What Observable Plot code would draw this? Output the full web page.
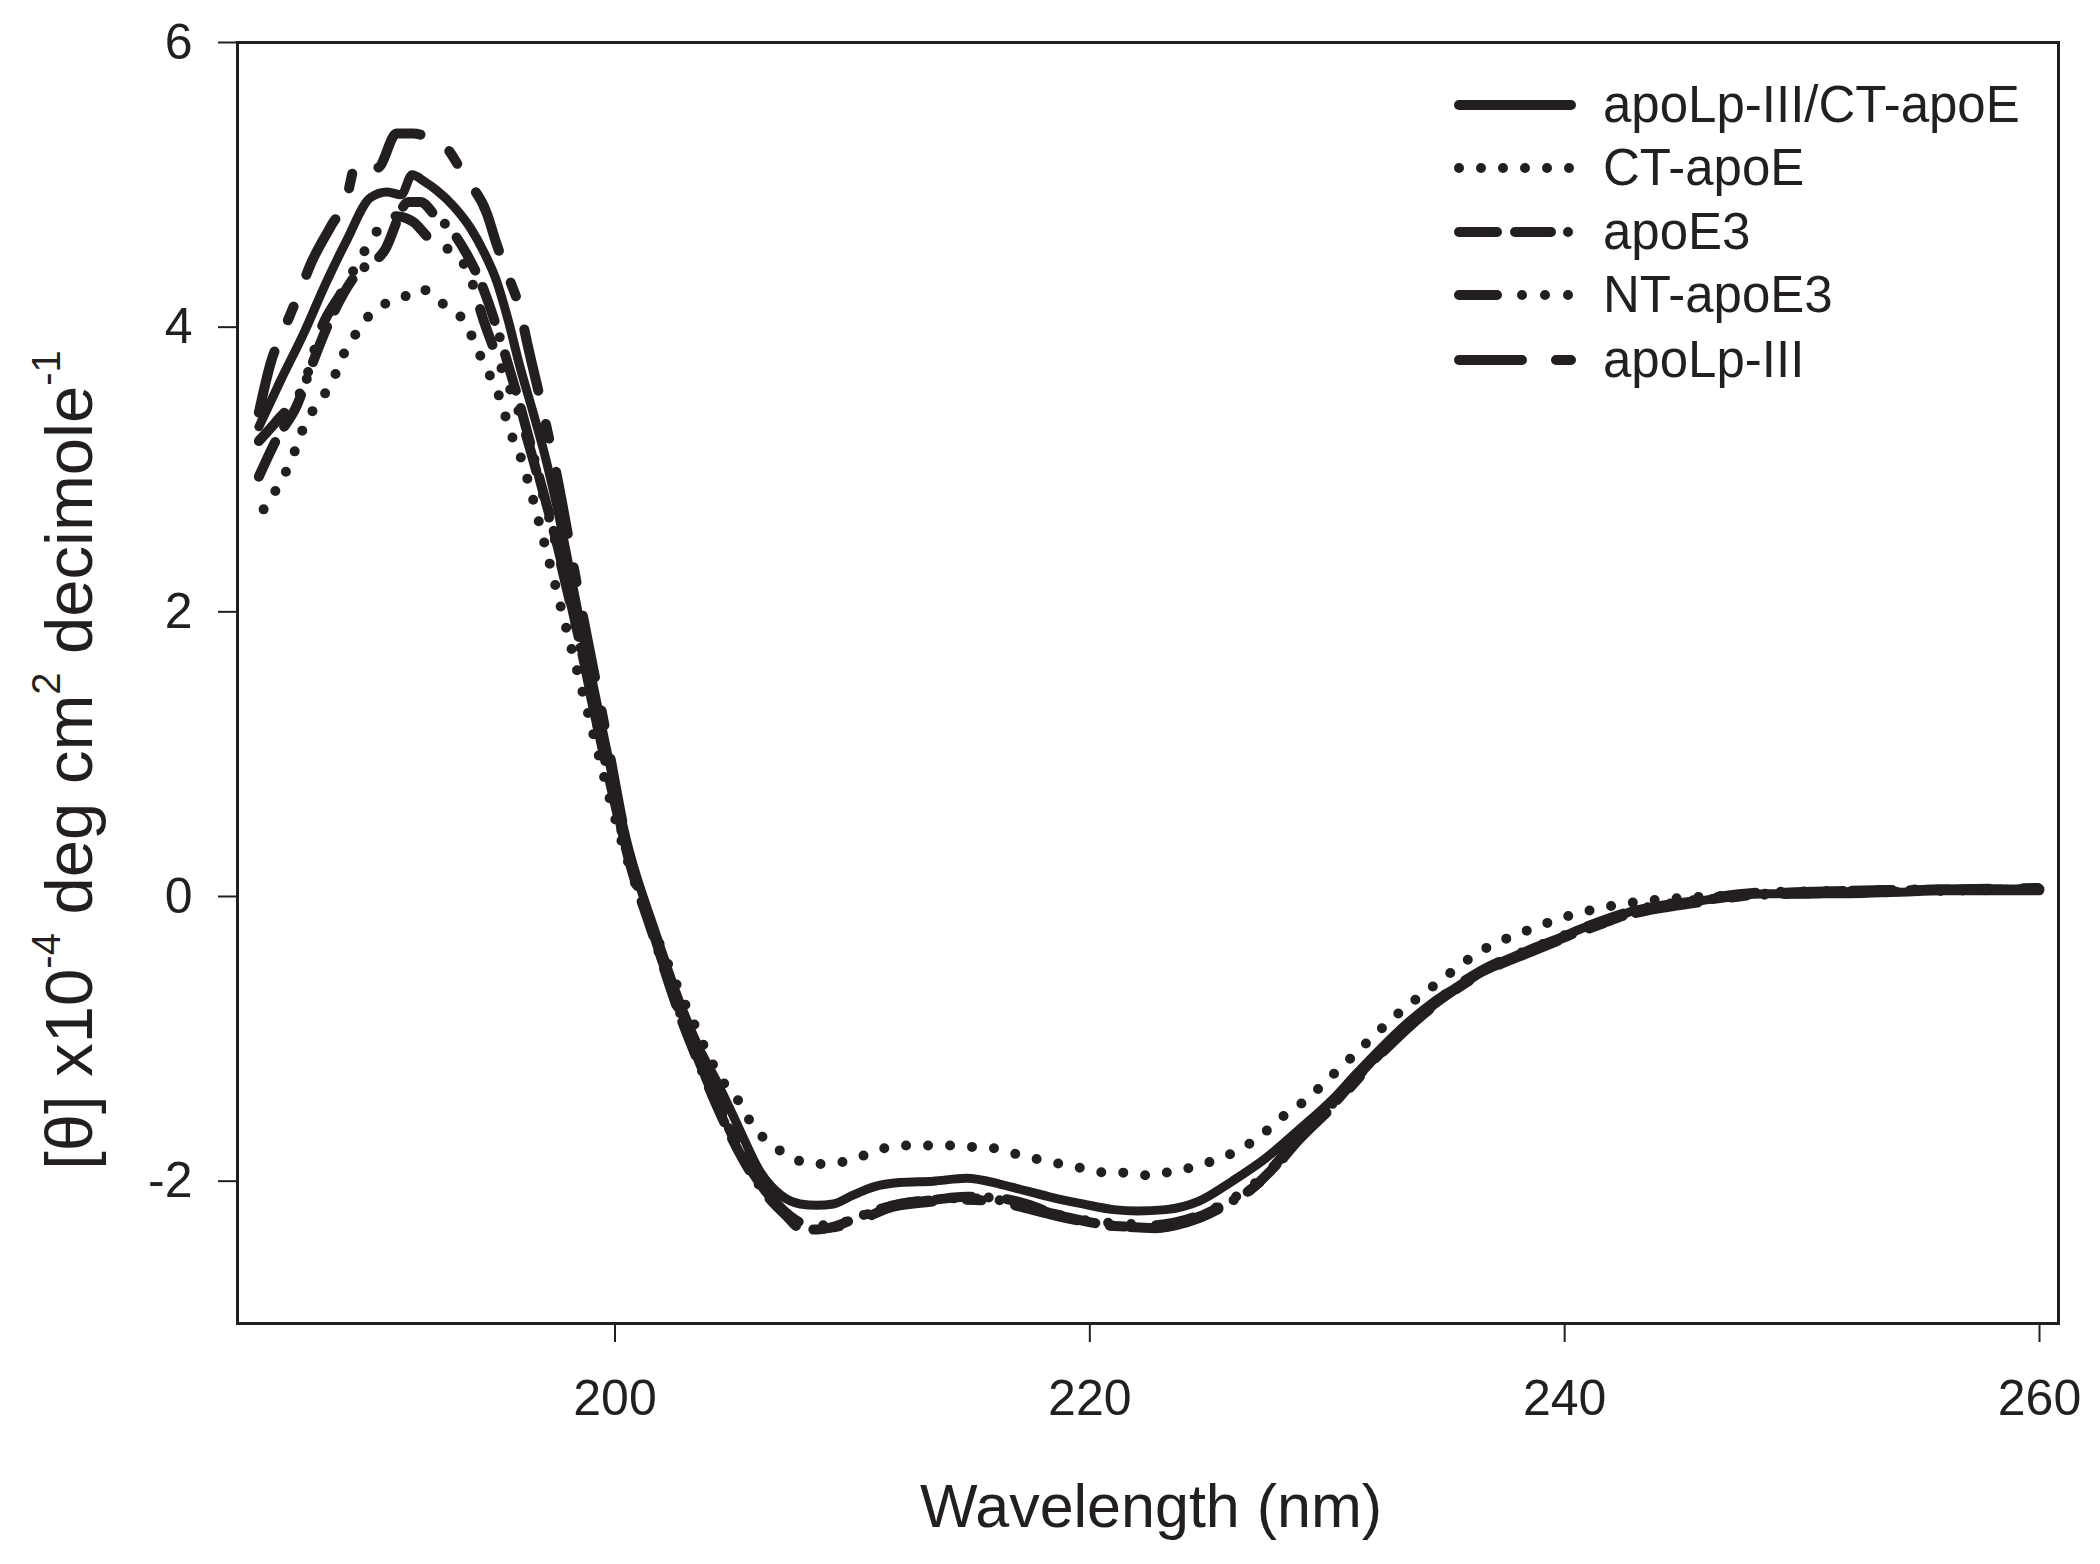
<!DOCTYPE html>
<html><head><meta charset="utf-8">
<script src="https://cdn.jsdelivr.net/npm/d3@7"></script>
<script src="https://cdn.jsdelivr.net/npm/@observablehq/plot@0.6"></script>
<style>html,body{margin:0;padding:0;background:#fff;} svg text{white-space:pre;}</style>
</head><body><div id="chart"></div>
<script>
// ---- data (wavelength nm, [theta] x10^-4) ----
const xTicks = [200, 220, 240, 260];
const yTicks = [-2, 0, 2, 4, 6];
const legendNames = ["apoLp-III/CT-apoE", "CT-apoE", "apoE3", "NT-apoE3", "apoLp-III"];

const wl_mix = [185.0,185.9,186.9,187.8,188.7,189.7,190.4,191.0,191.45,192.0,192.5,193.2,193.9,194.5,195.0,195.5,196.0,196.5,197.0,197.5,198.5,199.5,200.6,201.7,202.7,203.5,204.35,205.2,206.1,207.0,207.8,208.5,209.2,210.0,210.9,212.0,213.4,214.8,216.2,216.9,218.3,219.7,221.0,222.0,223.2,224.6,226.0,227.4,228.8,230.2,231.2,232.3,233.3,234.4,235.5,236.5,237.6,238.7,239.8,240.8,241.9,242.9,244.3,245.7,247.0,248.5,250.0,252.0,254.0,256.0,258.0,260.0];
const th_mix = [3.30,3.62,3.96,4.30,4.61,4.91,4.95,4.93,5.07,5.02,4.96,4.85,4.70,4.52,4.33,4.05,3.72,3.43,3.13,2.78,1.95,1.15,0.32,-0.25,-0.73,-1.05,-1.32,-1.62,-1.93,-2.10,-2.16,-2.17,-2.16,-2.10,-2.04,-2.01,-2.00,-1.98,-2.02,-2.05,-2.11,-2.16,-2.20,-2.21,-2.20,-2.14,-2.00,-1.84,-1.64,-1.43,-1.25,-1.06,-0.90,-0.75,-0.63,-0.52,-0.44,-0.36,-0.29,-0.22,-0.16,-0.10,-0.06,-0.03,0.00,0.02,0.02,0.02,0.03,0.04,0.04,0.04];

const wl_ct = [185.2,185.8,186.3,187.0,187.7,188.2,188.6,189.2,190.0,190.9,191.8,192.7,193.6,194.1,194.5,195.0,195.3,195.6,196.0,196.3,197.0,198.0,199.0,200.0,201.0,202.0,202.7,203.4,204.0,204.5,205.3,205.8,206.6,207.5,208.5,209.4,210.3,211.3,212.2,213.2,214.1,215.1,216.0,216.9,217.9,218.8,219.7,220.7,221.6,222.5,223.5,224.4,225.3,226.3,227.2,228.1,229.1,230.0,230.9,232.8,234.7,236.5,238.4,240.3,242.2,244.1,246.0,248.0,250.0,253.0,256.0,260.0];
const th_ct = [2.72,2.88,3.04,3.34,3.51,3.66,3.82,3.98,4.14,4.19,4.27,4.17,4.05,3.89,3.73,3.57,3.42,3.26,3.10,2.94,2.50,1.85,1.20,0.55,0.02,-0.38,-0.66,-0.92,-1.14,-1.29,-1.46,-1.61,-1.74,-1.84,-1.88,-1.87,-1.83,-1.77,-1.75,-1.75,-1.75,-1.76,-1.77,-1.81,-1.85,-1.88,-1.91,-1.94,-1.94,-1.96,-1.93,-1.90,-1.85,-1.78,-1.68,-1.55,-1.43,-1.29,-1.15,-0.85,-0.60,-0.38,-0.24,-0.13,-0.06,-0.02,0.00,0.01,0.02,0.03,0.04,0.05];

const wl_e3 = [185.0,185.8,186.6,187.2,188.0,189.0,190.3,191.3,191.8,192.5,193.0,193.8,194.5,195.2,196.0,196.8,197.6,198.5,199.5,200.6,201.7,202.7,203.6,204.5,205.4,206.3,207.2,207.8,208.5,209.2,210.0,210.9,212.0,213.5,214.8,216.2,217.5,218.3,219.5,220.4,221.5,222.8,223.7,224.6,225.6,226.7,227.6,228.8,230.2,231.2,232.3,233.3,234.4,235.5,236.5,237.6,238.7,239.8,240.8,241.9,242.9,244.3,245.7,247.0,248.5,250.0,252.0,254.0,256.0,258.0,260.0];
const th_e3 = [2.95,3.23,3.45,3.72,4.05,4.35,4.54,4.88,4.88,4.77,4.70,4.50,4.25,3.90,3.45,2.95,2.45,1.80,1.02,0.25,-0.32,-0.82,-1.20,-1.55,-1.85,-2.08,-2.24,-2.33,-2.34,-2.32,-2.27,-2.21,-2.16,-2.13,-2.11,-2.12,-2.17,-2.22,-2.27,-2.30,-2.32,-2.33,-2.30,-2.25,-2.17,-2.07,-1.93,-1.70,-1.47,-1.28,-1.09,-0.92,-0.77,-0.64,-0.53,-0.45,-0.37,-0.30,-0.23,-0.17,-0.11,-0.06,-0.03,0.00,0.02,0.02,0.03,0.04,0.05,0.05,0.05];

const wl_nt = [185.0,185.8,186.9,187.6,188.5,189.4,190.0,190.8,191.5,192.2,192.8,193.3,193.9,194.5,195.2,196.0,196.8,197.6,198.5,199.5,200.6,201.7,202.7,203.6,204.5,205.4,206.3,207.2,208.0,208.8,209.6,210.5,211.5,213.0,214.5,216.0,217.3,218.5,219.6,220.6,221.6,222.6,223.6,224.6,225.6,226.6,227.6,228.8,230.2,232.3,234.4,236.5,238.7,240.8,242.9,245.7,248.5,252.0,256.0,260.0];
const th_nt = [3.20,3.35,3.60,3.98,4.25,4.52,4.68,4.78,4.74,4.62,4.56,4.52,4.35,4.03,3.72,3.38,2.92,2.42,1.78,1.02,0.27,-0.30,-0.80,-1.18,-1.52,-1.82,-2.05,-2.22,-2.30,-2.31,-2.29,-2.24,-2.18,-2.14,-2.12,-2.13,-2.18,-2.23,-2.27,-2.29,-2.30,-2.31,-2.29,-2.24,-2.16,-2.06,-1.92,-1.69,-1.46,-1.08,-0.76,-0.52,-0.36,-0.22,-0.10,-0.02,0.03,0.04,0.05,0.05];

const wl_lp = [185.0,185.5,186.1,186.7,187.2,188.0,188.7,189.1,190.0,190.8,191.5,192.2,192.8,193.7,194.6,195.0,195.5,196.0,196.3,196.9,197.5,198.5,199.5,200.6,201.7,202.7,203.6,204.5,205.4,206.3,207.2,208.0,208.8,209.6,210.5,211.5,213.0,214.5,216.0,217.3,218.5,219.6,220.6,221.6,222.6,223.6,224.6,225.6,226.6,227.6,228.8,230.2,232.3,234.4,236.5,238.7,240.8,242.9,245.7,248.5,252.0,256.0,260.0];
const th_lp = [3.40,3.75,4.00,4.24,4.45,4.70,4.91,5.15,5.12,5.36,5.36,5.33,5.28,5.05,4.80,4.59,4.36,4.12,3.89,3.46,3.00,2.10,1.25,0.30,-0.30,-0.80,-1.18,-1.52,-1.83,-2.06,-2.23,-2.31,-2.33,-2.31,-2.26,-2.19,-2.15,-2.13,-2.14,-2.19,-2.24,-2.28,-2.31,-2.32,-2.33,-2.31,-2.26,-2.18,-2.08,-1.94,-1.71,-1.48,-1.10,-0.78,-0.54,-0.38,-0.24,-0.12,-0.04,0.02,0.04,0.05,0.06];

// ---- styling ----
const ink = "#231f20";
const series = [
  {name: legendNames[4], wl: wl_lp, th: th_lp, dash: "63 34 15 34", w: 10},
  {name: legendNames[3], wl: wl_nt, th: th_nt, dash: "38 25 0 23 0 23 0 25", w: 10},
  {name: legendNames[2], wl: wl_e3, th: th_e3, dash: "38 18 36 17 0 18", w: 10},
  {name: legendNames[0], wl: wl_mix, th: th_mix, dash: null, w: 9},
  {name: legendNames[1], wl: wl_ct, th: th_ct, dash: "0 22", w: 10}
];
const rows = series.flatMap(s => s.wl.map((w, i) => ({name: s.name, wl: w, th: s.th[i]})));

const chart = Plot.plot({
  width: 2100, height: 1564,
  marginLeft: 237, marginRight: 42, marginTop: 42, marginBottom: 241,
  style: {fontFamily: "'Liberation Sans', Arial, sans-serif", fontSize: "50px", color: ink, background: "#fff", overflow: "visible"},
  x: {domain: [184.1, 260.8]},
  y: {domain: [-3, 6]},
  marks: [
    ...series.map(s => Plot.line(rows.filter(r => r.name === s.name), {
      x: "wl", y: "th", stroke: ink, strokeWidth: s.w,
      strokeDasharray: s.dash, strokeLinecap: "round", strokeLinejoin: "round",
      curve: "monotone-x"
    })),
    Plot.frame({stroke: ink, strokeWidth: 3}),
    Plot.axisX({ticks: xTicks, tickFormat: d => String(d), tickSize: 19, tickPadding: 37, strokeWidth: 2, label: null, fontSize: 50}),
    Plot.axisY({ticks: yTicks, tickFormat: d => String(d), tickSize: 19, tickPadding: 26, strokeWidth: 2, label: null, fontSize: 50})
  ]
});
document.getElementById("chart").appendChild(chart);

const svg = d3.select(chart);
const ff = "'Liberation Sans', Arial, sans-serif";

// y-axis label with superscripts
const yl = svg.append("text")
  .attr("transform", "translate(92,760) rotate(-90)")
  .attr("text-anchor", "middle").attr("font-family", ff)
  .attr("font-size", 67).attr("fill", ink);
yl.append("tspan").text("[θ] x10");
yl.append("tspan").attr("dy", -32).attr("font-size", 40).text("-4");
yl.append("tspan").attr("dy", 32).text(" deg cm");
yl.append("tspan").attr("dy", -32).attr("font-size", 40).text("2");
yl.append("tspan").attr("dy", 32).text(" decimole");
yl.append("tspan").attr("dy", -32).attr("font-size", 40).text("-1");

// x-axis label
svg.append("text").attr("x", 1151).attr("y", 1527)
  .attr("text-anchor", "middle").attr("font-family", ff)
  .attr("font-size", 61).attr("fill", ink).text("Wavelength (nm)");

// legend
const legendStyles = [
  {dash: null}, {dash: "0 22"}, {dash: "38 18 36 17 0 18"},
  {dash: "38 25 0 23 0 23 0 25"}, {dash: "63 34 15 34"}
];
const legendY = [105, 168, 232, 295, 360];
const lg = svg.append("g");
legendNames.forEach((n, i) => {
  const ln = lg.append("line").attr("x1", 1459).attr("x2", 1571)
    .attr("y1", legendY[i]).attr("y2", legendY[i])
    .attr("stroke", ink).attr("stroke-width", 10).attr("stroke-linecap", "round");
  if (legendStyles[i].dash) ln.attr("stroke-dasharray", legendStyles[i].dash);
  lg.append("text").attr("x", 1603).attr("y", legendY[i] + 17)
    .attr("text-anchor", "start")
    .attr("font-family", ff).attr("font-size", 51).attr("fill", ink).text(n);
});
</script>
</body></html>
